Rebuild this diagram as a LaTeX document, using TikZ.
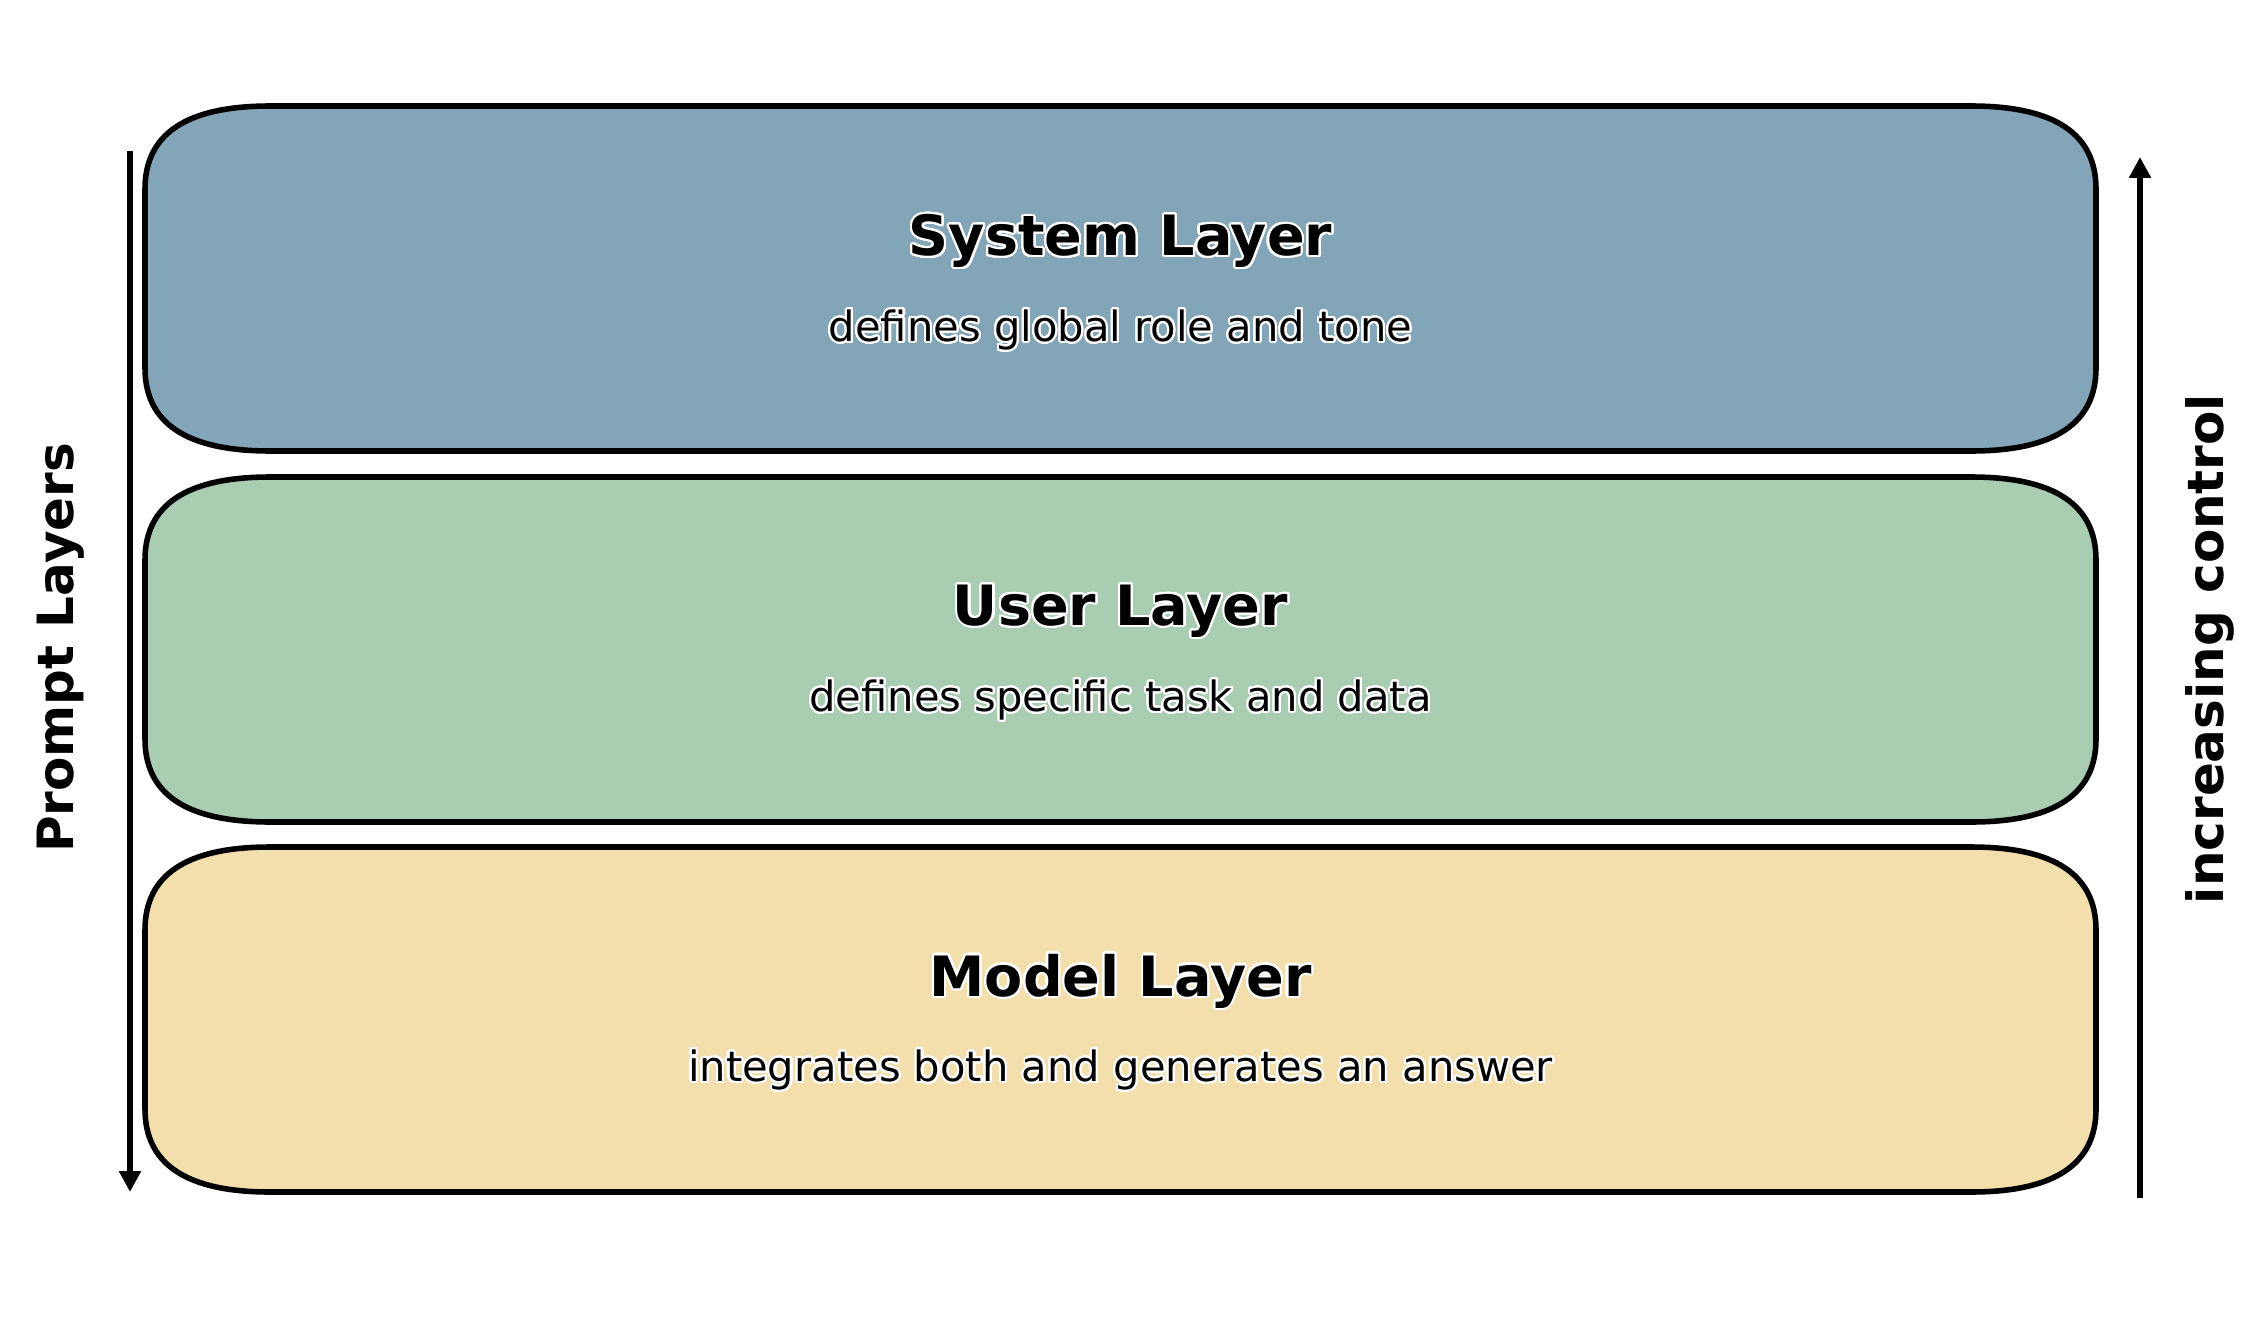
\documentclass[tikz,border=0pt]{standalone}
\usepackage{fontspec}
\setmainfont{DejaVu Sans}
\usepackage{contour}
\contourlength{0.75pt}
\contournumber{32}
\usetikzlibrary{arrows.meta}
\definecolor{sysc}{HTML}{82A6B7}
\definecolor{userc}{HTML}{A9CDB1}
\definecolor{modelc}{HTML}{F2DFAB}
\newcommand{\layerbox}[5]{%
  \draw[boxline, fill=#5]
    ({#1+125},{#2}) -- ({#3-125},{#2})
    .. controls ({#3-125/3},{#2}) and ({#3},{#2+83/3}) .. ({#3},{#2+83})
    -- ({#3},{#4-83})
    .. controls ({#3},{#4-83/3}) and ({#3-125/3},{#4}) .. ({#3-125},{#4})
    -- ({#1+125},{#4})
    .. controls ({#1+125/3},{#4}) and ({#1},{#4-83/3}) .. ({#1},{#4-83})
    -- ({#1},{#2+83})
    .. controls ({#1},{#2+83/3}) and ({#1+125/3},{#2}) .. cycle;}
\begin{document}
\begin{tikzpicture}[x=0.36pt,y=-0.36pt,
  boxline/.style={draw=black, line width=2pt},
  titletext/.style={inner sep=0pt, font=\bfseries\fontsize{20}{24}\selectfont},
  subtext/.style={inner sep=0pt, font=\fontsize{15}{18}\selectfont},
  sidetext/.style={inner sep=0pt, rotate=90, font=\bfseries\fontsize{18}{22}\selectfont},
  arr/.style={line width=2pt, -{Triangle[length=7.5pt,width=7.5pt]}}]
\useasboundingbox (0,0) rectangle (2254,1339);
\layerbox{145}{106}{2096}{451}{sysc}
\layerbox{145}{477}{2096}{822}{userc}
\layerbox{145}{847}{2096}{1192}{modelc}
\node[titletext] (systitle) at (1120.5,242) {\contour{white}{System Layer}};
\node[subtext] (syssub) at (1120.5,331) {\contour{white}{defines global role and tone}};
\node[titletext] (usertitle) at (1120.5,612) {\contour{white}{User Layer}};
\node[subtext] (usersub) at (1120.5,701) {\contour{white}{defines specific task and data}};
\node[titletext] (modeltitle) at (1120.5,982) {\contour{white}{Model Layer}};
\node[subtext] (modelsub) at (1120.5,1071) {\contour{white}{integrates both and generates an answer}};
\node[sidetext] (leftlabel) at (61,648) {Prompt Layers};
\node[sidetext] (rightlabel) at (2210,649) {increasing control};
\coordinate (ltop) at (130,151);
\coordinate (lbot) at (130,1192);
\coordinate (rbot) at (2140,1198);
\coordinate (rtop) at (2140,157);
\draw[arr] (ltop) -- (lbot);
\draw[arr] (rbot) -- (rtop);
\end{tikzpicture}
\end{document}
